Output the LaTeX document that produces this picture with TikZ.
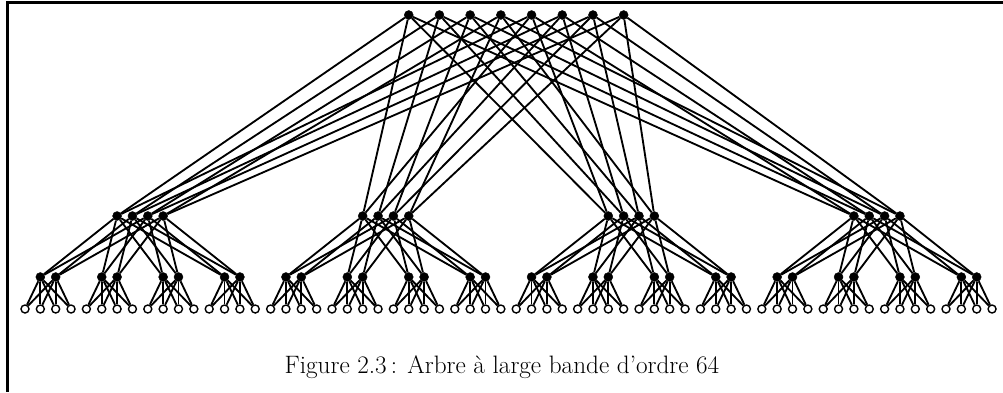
\documentclass[tikz,border=0pt]{standalone}
\usepackage{fontspec}
\begin{document}
\begin{tikzpicture}[x=1pt,y=-1pt,
  inner/.style={circle,fill=black,draw=black,inner sep=0pt,minimum size=9pt},
  leaf/.style={circle,draw=black,fill=white,line width=1.4pt,inner sep=0pt,minimum size=8pt},
  link/.style={line width=1.85pt},
  frame/.style={line width=3pt}]
\useasboundingbox (0,0) rectangle (1003,392);
\draw[frame] (1003,2) -- (7.5,2) -- (7.5,392);
% nodes
\foreach \k in {0,...,63} \node[leaf] (l\k) at ({25+15.35*\k},309) {};
\foreach \g in {0,...,15} \foreach \a in {0,1} \node[inner] (b\g-\a) at ({25+15.35*(4*\g+1+\a)},277) {};
\foreach \G in {0,...,3} \foreach \i in {0,...,3} \node[inner] (m\G-\i) at ({25+15.35*(16*\G+6+\i)},216) {};
\foreach \j in {0,...,7} \node[inner] (t\j) at ({25+15.35*(25+2*\j)},15) {};
% connectors
\foreach \g in {0,...,15} \foreach \a in {0,1} \foreach \c in {0,...,3} {%
  \pgfmathtruncatemacro\k{4*\g+\c}\draw[link] (b\g-\a) -- (l\k);}
\foreach \G in {0,...,3} \foreach \i in {0,...,3} \foreach \s in {0,...,3} {%
  \pgfmathtruncatemacro\g{4*\G+\s}\pgfmathtruncatemacro\a{mod(\i,2)}\draw[link] (m\G-\i) -- (b\g-\a);}
\foreach \j in {0,...,7} \foreach \G in {0,...,3} {%
  \pgfmathtruncatemacro\i{mod(\j,4)}\draw[link] (t\j) -- (m\G-\i);}
% caption
\node[anchor=base,inner sep=0pt] (cap) at (502,373) {\fontsize{25.2}{30}\selectfont Figure 2.3\,: Arbre à large bande d’ordre 64};
\end{tikzpicture}
\end{document}
